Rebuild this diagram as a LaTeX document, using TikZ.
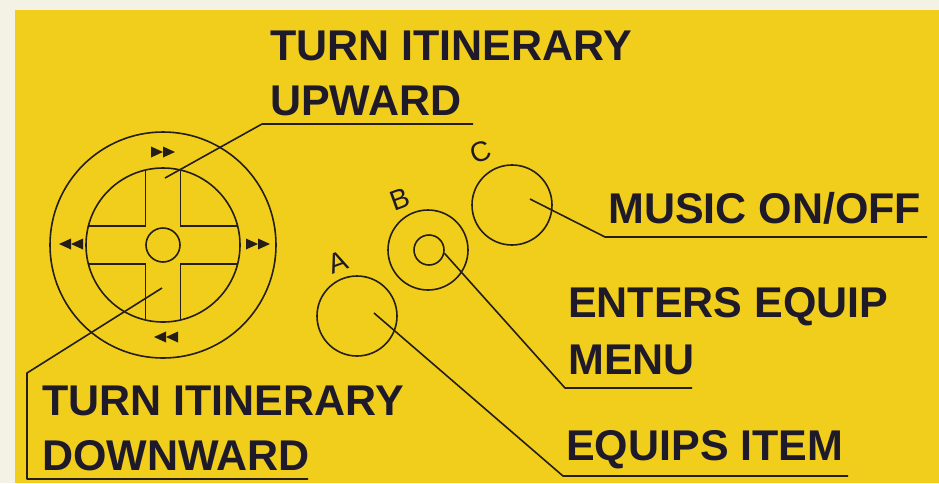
\documentclass[tikz,border=0pt]{standalone}
\usepackage{fontspec}
\setmainfont{Liberation Sans}
\definecolor{bgyellow}{RGB}{242,206,28}
\definecolor{paper}{RGB}{244,242,228}
\definecolor{ink}{RGB}{30,26,42}
\definecolor{linec}{RGB}{36,30,22}
\begin{document}
\begin{tikzpicture}[x=1pt,y=-1pt,
  lbl/.style={inner sep=0pt,anchor=base west,text=ink,font=\fontsize{43}{50}\selectfont\bfseries},
  letter/.style={inner sep=0pt,text=ink,font=\fontsize{28}{32}\selectfont,rotate=20},
  ring/.style={circle,draw=linec,line width=1.6pt,inner sep=0pt,minimum size=#1},
  leader/.style={draw=linec,line width=1.6pt,line join=round},
  ff/.pic={\fill[linec] (-12,-5.5)--(0,0)--(-12,5.5)--cycle; \fill[linec] (0,-5.5)--(12,0)--(0,5.5)--cycle;}
]
\useasboundingbox (0,0) rectangle (939,483);
\fill[paper] (0,0) rectangle (939,483);
\fill[bgyellow] (15,10) rectangle (939,483);

% D-pad
\node[ring=226pt] (pad) at (163,245) {};
\node[ring=154pt] (padin) at (163,245) {};
\node[ring=34pt] (padc) at (163,245) {};
\begin{scope}[draw=linec,line width=1.6pt]
\draw (145.5,170) -- (145.5,226) -- (88.4,226);
\draw (180.5,170) -- (180.5,226) -- (237.6,226);
\draw (145.5,320) -- (145.5,264) -- (88.4,264);
\draw (180.5,320) -- (180.5,264) -- (237.6,264);
\end{scope}
\pic at (163,152) {ff};
\pic at (258,244) {ff};
\pic[xscale=-1] at (71,244) {ff};
\pic[xscale=-1] at (166,337) {ff};

% buttons
\node[ring=80pt] (btnA) at (357,316) {};
\node[ring=80pt] (btnB) at (428,250) {};
\node[ring=30pt] (btnBi) at (429,250) {};
\node[ring=80pt] (btnC) at (512,205) {};
\node[letter] (lA) at (338,262) {A};
\node[letter] (lB) at (400,199) {B};
\node[letter] (lC) at (481,152) {C};

% labels
\node[lbl] (up1) at (270,60) {TURN ITINERARY};
\node[lbl] (up2) at (270,115) {UPWARD};
\node[lbl] (music) at (608,223) {MUSIC ON/OFF};
\node[lbl] (ent1) at (568,317) {ENTERS EQUIP};
\node[lbl] (ent2) at (568,374) {MENU};
\node[lbl] (dn1) at (42,415) {TURN ITINERARY};
\node[lbl] (dn2) at (42,470) {DOWNWARD};
\node[lbl] (equip) at (566,460) {EQUIPS ITEM};

% leader points
\coordinate (upS) at (165,178);
\coordinate (upK) at (262,124);
\coordinate (upE) at (473,124);
\coordinate (dnS) at (162,288);
\coordinate (dnK) at (27,373);
\coordinate (dnK2) at (27,479);
\coordinate (dnE) at (308,479);
\coordinate (cS) at (530,199);
\coordinate (cK) at (605,237);
\coordinate (cE) at (927,237);
\coordinate (bS) at (btnBi.-12);
\coordinate (bK) at (565,388);
\coordinate (bE) at (692,388);
\coordinate (aS) at (374,313);
\coordinate (aK) at (563,476);
\coordinate (aE) at (848,476);

\draw[leader] (upS) -- (upK) -- (upE);
\draw[leader] (dnS) -- (dnK) -- (dnK2) -- (dnE);
\draw[leader] (cS) -- (cK) -- (cE);
\draw[leader] (bS) -- (bK) -- (bE);
\draw[leader] (aS) -- (aK) -- (aE);
\end{tikzpicture}
\end{document}
